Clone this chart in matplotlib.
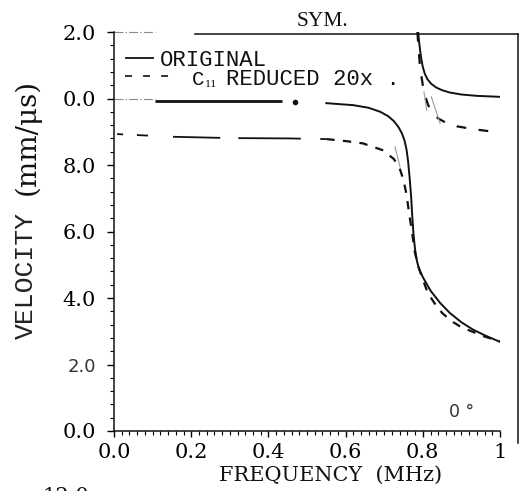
import matplotlib
matplotlib.use("Agg")
import matplotlib.pyplot as plt
from matplotlib.lines import Line2D
from matplotlib.ticker import MultipleLocator

plt.rcParams["lines.scale_dashes"] = False

# dispersion curves, frequency in MHz, velocity in mm/us
orig_flat_f = [0.106, 0.435]
orig_flat_v = [9.92, 9.92]
orig_dot_f = [0.469]
orig_dot_v = [9.89]
orig_low_f = [0.55, 0.62, 0.66, 0.69, 0.71, 0.725, 0.737, 0.746, 0.753, 0.758,
              0.762, 0.766, 0.770, 0.773, 0.776, 0.780, 0.785, 0.79, 0.80, 0.82,
              0.845, 0.87, 0.90, 0.93, 0.96, 1.0]
orig_low_v = [9.86, 9.80, 9.72, 9.60, 9.47, 9.32, 9.14, 8.95, 8.72, 8.45,
              8.10, 7.60, 7.00, 6.40, 5.90, 5.45, 5.10, 4.88, 4.63, 4.22,
              3.85, 3.55, 3.27, 3.05, 2.88, 2.68]
orig_up_f = [0.788, 0.790, 0.793, 0.796, 0.800, 0.805, 0.812, 0.822, 0.835, 0.85,
             0.87, 0.90, 0.94, 1.0]
orig_up_v = [12.0, 11.75, 11.45, 11.2, 10.95, 10.75, 10.58, 10.44, 10.33, 10.25,
             10.18, 10.12, 10.08, 10.05]

red_flat_f = [0.008, 0.15, 0.30, 0.45, 0.55]
red_flat_v = [8.93, 8.85, 8.81, 8.80, 8.78]
red_low_f = [0.55, 0.60, 0.645, 0.695, 0.71, 0.725, 0.74, 0.75, 0.758, 0.765,
             0.772, 0.779, 0.787, 0.797, 0.813, 0.83, 0.85, 0.875, 0.90, 0.93,
             0.96, 1.0]
red_low_v = [8.78, 8.72, 8.65, 8.45, 8.32, 8.18, 7.90, 7.55, 7.10, 6.50,
             6.00, 5.40, 5.00, 4.65, 4.15, 3.85, 3.55, 3.30, 3.12, 2.98,
             2.84, 2.70]
red_up_f = [0.786, 0.789, 0.792, 0.796, 0.80, 0.806, 0.814, 0.825, 0.84, 0.86,
            0.89, 0.93, 0.97, 1.0]
red_up_v = [12.0, 11.5, 11.05, 10.7, 10.4, 10.08, 9.8, 9.57, 9.4, 9.27,
            9.16, 9.08, 9.02, 8.98]

# faint stray strokes near the cut-off
faint_segs = [
    ([0.728, 0.741], [8.54, 7.94]),
    ([0.803, 0.810], [10.20, 9.65]),
    ([0.822, 0.845], [10.05, 9.25]),
]

x_ticks = [0.0, 0.2, 0.4, 0.6, 0.8, 1.0]
x_labels = ["0.0", "0.2", "0.4", "0.6", "0.8", "1"]
y_ticks = [0, 2, 4, 6, 8, 10, 12]
y_labels = ["0.0", "2.0", "4.0", "6.0", "8.0", "0.0", "2.0"]
stub_levels = [12.0, 10.0]

serif = "DejaVu Serif"
mono = "Liberation Mono"
ink = "#111111"

fig = plt.figure(figsize=(5.19, 4.91), dpi=100)
ax = fig.add_axes([0.2197, 0.1222, 0.7437, 0.8126])

ax.plot(orig_flat_f, orig_flat_v, color=ink, lw=2.0, solid_capstyle="butt")
ax.plot(orig_dot_f, orig_dot_v, "o", color=ink, ms=3)
ax.plot(orig_low_f, orig_low_v, color=ink, lw=1.4)
ax.plot(orig_up_f, orig_up_v, color=ink, lw=1.4)

ax.plot(red_flat_f, red_flat_v, color=ink, lw=1.3,
        dashes=(4.3, 10, 8, 18, 34, 13, 45, 14, 5, 9))
ax.plot(red_low_f, red_low_v, color=ink, lw=1.6, dashes=(6, 6))
ax.plot(red_up_f, red_up_v, color=ink, lw=1.6, dashes=(7, 9))

for fx, fy in faint_segs:
    ax.plot(fx, fy, color="#9a9a9a", lw=0.8)

for lev in stub_levels:
    ax.plot([0.0, 0.106], [lev, lev], color="#8a8a8a", lw=0.8, ls="-.", clip_on=False)

ax.set_xlim(0, 1)
ax.set_ylim(0, 12)
ax.spines["top"].set_visible(False)
ax.spines["right"].set_visible(False)
for s in ("left", "bottom"):
    ax.spines[s].set_linewidth(1.1)
    ax.spines[s].set_color(ink)

ax.set_xticks(x_ticks)
ax.set_xticklabels(x_labels, fontfamily=serif, fontsize=15)
ax.set_yticks(y_ticks)
ax.set_yticklabels(y_labels, fontfamily=serif, fontsize=15)
ax.xaxis.set_minor_locator(MultipleLocator(0.02))
ax.yaxis.set_minor_locator(MultipleLocator(0.4))
ax.tick_params(axis="x", which="major", direction="out", length=4, width=1, pad=5)
ax.tick_params(axis="x", which="minor", direction="out", length=3, width=0.8)
ax.tick_params(axis="y", which="major", direction="out", length=5, width=1, pad=8)
ax.tick_params(axis="y", which="minor", direction="out", length=3, width=0.8)

# the lower 2.0 label comes out in a plain sans face
lbl = ax.get_yticklabels()[1]
lbl.set_fontfamily("DejaVu Sans")
lbl.set_fontsize(13)
lbl.set_color("#333333")

# legend drawn by hand
ax.plot([0.031, 0.101], [0.935, 0.935], color=ink, lw=1.3, transform=ax.transAxes, clip_on=False)
ax.plot([0.0285, 0.158], [0.890, 0.890], color=ink, lw=1.2, dashes=(5, 8),
        transform=ax.transAxes, clip_on=False)
ax.text(0.119, 0.915, "ORIGINAL", transform=ax.transAxes, fontfamily=mono,
        fontsize=16, color=ink, va="baseline")
ax.text(0.202, 0.866, "C", transform=ax.transAxes, fontfamily=mono,
        fontsize=15, color=ink, va="baseline")
ax.text(0.236, 0.862, "11", transform=ax.transAxes, fontfamily=serif,
        fontsize=7, color=ink, va="baseline")
ax.text(0.29, 0.866, "REDUCED 20x .", transform=ax.transAxes, fontfamily=mono,
        fontsize=16, color=ink, va="baseline")

# outer frame strokes on top and right
fig.add_artist(Line2D([0.3757, 0.998], [0.9308, 0.9308], color=ink, lw=1.1))
fig.add_artist(Line2D([0.998, 0.998], [0.9308, 0.0978], color=ink, lw=1.1))

fig.text(0.622, 0.957, "SYM.", fontfamily="Liberation Serif", fontsize=15.5,
         ha="center", va="center", color=ink)
fig.text(0.636, 0.033, "FREQUENCY  (MHz)", fontfamily=serif, fontsize=15,
         ha="center", va="center", color=ink)
fig.text(0.052, 0.721, "(mm/\u03bcs)", fontfamily=serif, fontsize=20,
         rotation=90, ha="center", va="center", color=ink)
fig.text(0.050, 0.438, "VELOCITY", fontfamily=mono, fontsize=19,
         rotation=90, ha="center", va="center", color="#222222")
fig.text(0.89, 0.161, "0 \u00b0", fontfamily="DejaVu Sans", fontsize=12.5,
         ha="center", va="center", color="#333333")
fig.text(0.127, 0.008, "12.0", fontfamily=serif, fontsize=15,
         ha="center", va="top", color=ink)

fig.savefig("out.png", dpi=100)
